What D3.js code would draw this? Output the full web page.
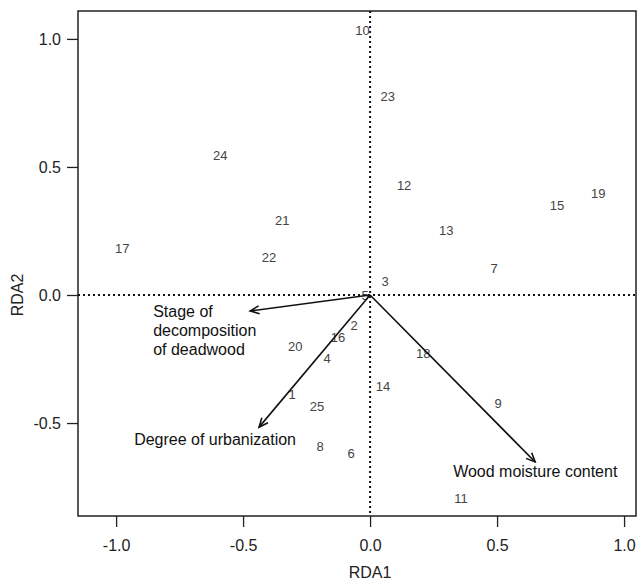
<!doctype html>
<html>
<head>
  <meta charset="utf8"/>
  <style>
    body { margin: 0; background: #fff; }
    text { font-family: "Liberation Sans", Arial, sans-serif; }
    .axis path, .axis line { stroke: #222; stroke-width: 1.3px; }
    .axis text { font-size: 16px; fill: #222; }
    .site { font-size: 13px; fill: #444; }
    .env { font-size: 16px; fill: #111; }
    .zero { stroke: #111; stroke-width: 2px; stroke-dasharray: 2,3; }
    .arrow { stroke: #111; stroke-width: 1.6px; fill: none; }
  </style>
</head>
<body>
  <svg width="638" height="581"></svg>
  <script src="https://d3js.org/d3.v7.min.js"></script>
  <script>
    // site scores (RDA1, RDA2)
    var siteIds = ['1','2','3','4','5','6','7','8','9','10','11','12','13',
                   '14','15','16','17','18','19','20','21','22','23','24','25'];
    var siteX = [-0.307, -0.063, 0.059, -0.169, -0.02, -0.075, 0.488, -0.197,
                 0.504, -0.03, 0.358, 0.134, 0.30, 0.051, 0.736, -0.126,
                 -0.976, 0.209, 0.898, -0.295, -0.346, -0.398, 0.07, -0.59, -0.209];
    var siteY = [-0.387, -0.117, 0.051, -0.246, 0.0, -0.617, 0.105, -0.59,
                 -0.422, 1.035, -0.793, 0.426, 0.254, -0.359, 0.348, -0.164,
                 0.18, -0.227, 0.398, -0.2, 0.293, 0.145, 0.777, 0.543, -0.434];

    // environmental vectors
    var envNames = [['Stage of', 'decomposition', 'of deadwood'],
                    ['Degree of urbanization'],
                    ['Wood moisture content']];
    var envX = [-0.472, -0.437, 0.65];
    var envY = [-0.0625, -0.516, -0.652];

    var xTicks = [-1.0, -0.5, 0.0, 0.5, 1.0];
    var yTicks = [-0.5, 0.0, 0.5, 1.0];

    var svg = d3.select('svg'),
        margin = {top: 11, right: 2, bottom: 65, left: 78},
        width = +svg.attr('width') - margin.left - margin.right,
        height = +svg.attr('height') - margin.top - margin.bottom,
        g = svg.append('g')
               .attr('transform', 'translate(' + margin.left + ',' + margin.top + ')');

    var x = d3.scaleLinear().domain([-1.15, 1.047]).range([0, width]);
    var y = d3.scaleLinear().domain([-0.863, 1.109]).range([height, 0]);

    // plain hyphen for negatives, like the original
    var fmt = function(d) { return d.toFixed(1); };

    // box
    g.append('rect')
      .attr('width', width).attr('height', height)
      .attr('fill', 'none').attr('stroke', '#222').attr('stroke-width', 1.5);

    g.append('g')
      .attr('class', 'axis')
      .attr('transform', 'translate(0,' + height + ')')
      .call(d3.axisBottom(x).tickValues(xTicks).tickFormat(fmt)
              .tickSizeInner(11).tickSizeOuter(0).tickPadding(13))
      .call(function(a) { a.select('.domain').remove(); });

    g.append('g')
      .attr('class', 'axis')
      .call(d3.axisLeft(y).tickValues(yTicks).tickFormat(fmt)
              .tickSizeInner(11).tickSizeOuter(0).tickPadding(6))
      .call(function(a) { a.select('.domain').remove(); });

    svg.append('text')
      .attr('x', margin.left + x(0)).attr('y', 578)
      .attr('text-anchor', 'middle')
      .style('font-size', '16px').style('fill', '#222')
      .text('RDA1');

    svg.append('text')
      .attr('transform', 'translate(23,' + (margin.top + y(0)) + ') rotate(-90)')
      .attr('text-anchor', 'middle')
      .style('font-size', '16px').style('fill', '#222')
      .text('RDA2');

    // zero lines
    g.append('line').attr('class', 'zero')
      .attr('x1', 0).attr('x2', width).attr('y1', y(0)).attr('y2', y(0));
    g.append('line').attr('class', 'zero')
      .attr('x1', x(0)).attr('x2', x(0)).attr('y1', 0).attr('y2', height);

    // site labels
    g.selectAll('.site')
      .data(siteIds)
      .enter().append('text')
        .attr('class', 'site')
        .attr('x', function(d, i) { return x(siteX[i]); })
        .attr('y', function(d, i) { return y(siteY[i]); })
        .attr('text-anchor', 'middle')
        .attr('dy', '0.35em')
        .text(function(d) { return d; });

    // arrow heads
    svg.append('defs').append('marker')
      .attr('id', 'head')
      .attr('viewBox', '-10 -6 12 12')
      .attr('refX', 0).attr('refY', 0)
      .attr('markerWidth', 12).attr('markerHeight', 12)
      .attr('markerUnits', 'userSpaceOnUse')
      .attr('orient', 'auto')
      .append('path')
        .attr('d', 'M-9,-4 L0,0 L-9,4')
        .attr('fill', 'none').attr('stroke', '#111').attr('stroke-width', 1.6);

    g.selectAll('.arrow')
      .data(envX)
      .enter().append('line')
        .attr('class', 'arrow')
        .attr('x1', x(0)).attr('y1', y(0))
        .attr('x2', function(d) { return x(d); })
        .attr('y2', function(d, i) { return y(envY[i]); })
        .attr('marker-end', 'url(#head)');

    // vector labels, placed near their arrow tips
    var labelPos = [[-0.854, -0.0625], [-0.929, -0.5625], [0.327, -0.6875]];
    envNames.forEach(function(lines, i) {
      var t = g.append('text')
        .attr('class', 'env')
        .attr('x', x(labelPos[i][0]))
        .attr('y', y(labelPos[i][1]));
      lines.forEach(function(s, j) {
        t.append('tspan')
          .attr('x', x(labelPos[i][0]))
          .attr('dy', j === 0 ? '0.35em' : '1.19em')
          .text(s);
      });
    });
  </script>
</body>
</html>
